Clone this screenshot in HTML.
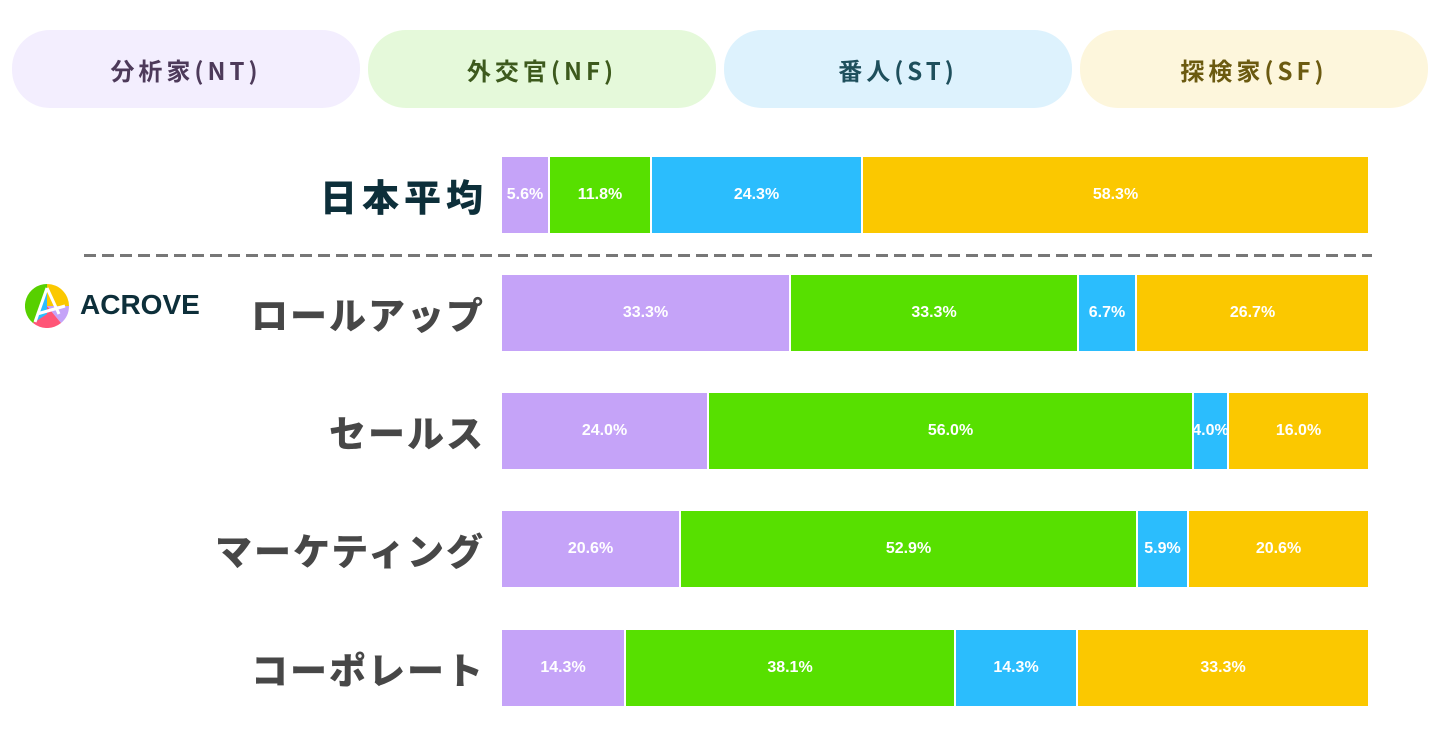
<!DOCTYPE html>
<html><head><meta charset="utf-8"><style>
body{margin:0;width:1440px;height:754px;background:#fff;position:relative;overflow:hidden;font-family:"Liberation Sans","Noto Sans CJK JP",sans-serif}
.pill{position:absolute;top:30px;height:78px;width:348px;border-radius:38px;display:flex;align-items:center;justify-content:center;font-weight:bold;font-size:24px;letter-spacing:4px;font-family:"Noto Sans CJK JP","Liberation Sans",sans-serif}
.lab{position:absolute;right:955px;width:400px;text-align:right;font-weight:900;font-size:37px;letter-spacing:2px;color:#474747;font-family:"Noto Sans CJK JP",sans-serif;line-height:76px}
.seg{position:absolute;height:76px;display:flex;align-items:center;justify-content:center;color:#fff;font-weight:bold;font-size:16px;box-sizing:border-box;border-right:2px solid #fff}
.a{background:#c5a3f8}.b{background:#57e000}.c{background:#2bbdfd}.d{background:#fbc800;border-right:none}
</style></head><body>
<div class="pill" style="left:12px;background:#f3eefe;color:#4d3a5a">分析家(NT)</div>
<div class="pill" style="left:368px;background:#e5f9da;color:#3d5a1d">外交官(NF)</div>
<div class="pill" style="left:724px;background:#ddf2fd;color:#1e4f5c">番人(ST)</div>
<div class="pill" style="left:1080px;background:#fdf6dc;color:#6b5a10">探検家(SF)</div>

<div class="lab" style="top:157px;color:#0d2f3a;letter-spacing:5px;right:952px">日本平均</div>
<div class="lab" style="top:275px">ロールアップ</div>
<div class="lab" style="top:393px">セールス</div>
<div class="lab" style="top:511px">マーケティング</div>
<div class="lab" style="top:630px">コーポレート</div>

<div style="position:absolute;left:84px;top:254px;width:1288px;height:3px;background:repeating-linear-gradient(90deg,#777 0 12px,transparent 12px 18px)"></div>

<svg style="position:absolute;left:25px;top:284px" width="44" height="44" viewBox="0 0 44 44">
<path d="M22 22 L22 0 A22 22 0 0 1 44 22 Z" fill="#fbc800"/>
<path d="M22 22 L44 22 A22 22 0 0 1 36 39 Z" fill="#c5a3f8"/>
<path d="M22 22 L36 39 A22 22 0 0 1 8 39 Z" fill="#ff5577"/>
<path d="M22 22 L8 39 A22 22 0 0 1 22 0 Z" fill="#57d000"/>
<path d="M22 4 L10 38 L22 30 Z" fill="#2bbdfd"/>
<path d="M22 4 L10 38 M22 4 L34 30 M12 30 L40 22" stroke="#fff" stroke-width="3" fill="none"/>
</svg>
<div style="position:absolute;left:80px;top:289px;font-size:28px;font-weight:bold;color:#0d2f3a">ACROVE</div>

<div class="seg a" style="left:502px;top:157px;width:48px">5.6%</div>
<div class="seg b" style="left:550px;top:157px;width:102px">11.8%</div>
<div class="seg c" style="left:652px;top:157px;width:211px">24.3%</div>
<div class="seg d" style="left:863px;top:157px;width:505px">58.3%</div>

<div class="seg a" style="left:502px;top:275px;width:289px">33.3%</div>
<div class="seg b" style="left:791px;top:275px;width:288px">33.3%</div>
<div class="seg c" style="left:1079px;top:275px;width:58px">6.7%</div>
<div class="seg d" style="left:1137px;top:275px;width:231px">26.7%</div>

<div class="seg a" style="left:502px;top:393px;width:207px">24.0%</div>
<div class="seg b" style="left:709px;top:393px;width:485px">56.0%</div>
<div class="seg c" style="left:1194px;top:393px;width:35px">4.0%</div>
<div class="seg d" style="left:1229px;top:393px;width:139px">16.0%</div>

<div class="seg a" style="left:502px;top:511px;width:179px">20.6%</div>
<div class="seg b" style="left:681px;top:511px;width:457px">52.9%</div>
<div class="seg c" style="left:1138px;top:511px;width:51px">5.9%</div>
<div class="seg d" style="left:1189px;top:511px;width:179px">20.6%</div>

<div class="seg a" style="left:502px;top:630px;width:124px">14.3%</div>
<div class="seg b" style="left:626px;top:630px;width:330px">38.1%</div>
<div class="seg c" style="left:956px;top:630px;width:122px">14.3%</div>
<div class="seg d" style="left:1078px;top:630px;width:290px">33.3%</div>
</body></html>
